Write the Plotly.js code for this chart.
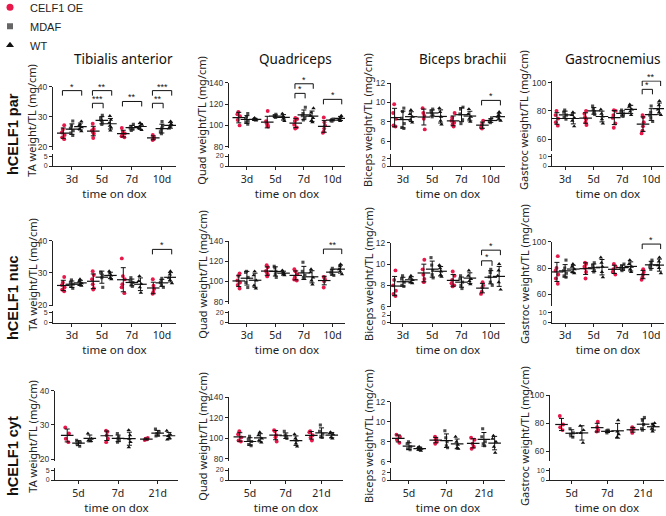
<!DOCTYPE html>
<html><head><meta charset="utf-8">
<script src="https://cdn.plot.ly/plotly-3.0.1.min.js"></script>
<style>html,body{margin:0;padding:0;background:#fff}#chart{width:666px;height:516px}</style>
</head><body><div id="chart"></div>
<script>
// ---------------- data ----------------
const groups = ['CELF1 OE', 'MDAF', 'WT'];
const muscles = ['Tibialis anterior', 'Quadriceps', 'Biceps brachii', 'Gastrocnemius'];
const yTitles = ['TA weight/TL (mg/cm)', 'Quad weight/TL (mg/cm)', 'Biceps weight/TL (mg/cm)', 'Gastroc weight/TL (mg/cm)'];
const rowLabels = ['hCELF1 par', 'hCELF1 nuc', 'hCELF1 cyt'];
const timesParNuc = ['3d', '5d', '7d', '10d'];
const timesCyt = ['5d', '7d', '21d'];
const upperTicks = [[20, 30, 40], [80, 100, 120, 140], [6, 8, 10, 12], [60, 80, 100]];
const lowerTicks = [[0, 5], [0, 20], [0, 2], [0, 10]];

// hCELF1 par
const par_TA_OE   = [[27.2,25.8,24.8,24.0,23.2,22.6],[27.7,26.0,25.5,25.0,24.5,23.0],[26.3,25.0,24.5,24.0,23.6,23.2],[24.0,23.3,23.0,22.6,22.3]];
const par_TA_MDAF = [[28.6,27.0,26.2,25.4,24.6,23.8],[30.5,29.5,28.8,28.0,27.5],[27.5,26.8,26.3,26.0,25.5],[28.4,27.0,26.3,25.5,25.0,24.4]];
const par_TA_WT   = [[28.5,27.5,27.0,26.5,26.0,25.2],[30.3,29.0,28.0,27.0,26.5,25.5],[28.0,27.4,26.8,26.2,25.6],[28.5,27.6,27.0,26.6,26.1]];
const par_Quad_OE   = [[112.5,110.5,108.5,105,100],[113.5,104,102,100.5,99.5,99],[107,106,104,100.5,98,97],[107.5,103,100,97,94,93]];
const par_Quad_MDAF = [[111,108,106,104,103,101],[110.5,109,108.5,108,107.5],[117,111,109,107.5,105],[106,105.5,105,104.5,104]];
const par_Quad_WT   = [[107,106,105.5,105,104.5],[111,108.5,107.5,106.5,104],[116,112,109,107,104.5,103],[109,107.5,106.5,105.5,104]];
const par_Bic_OE   = [[9.8,8.9,8.3,7.6,7.5],[9.4,8.9,8.6,8.3,7.2],[8.9,8.4,8.1,7.9,7.7,7.5],[8.1,7.8,7.6,7.4,7.3]];
const par_Bic_MDAF = [[9.4,9.05,8.35,7.8,7.4,7.3],[9.3,9.1,8.9,8.7,8.5],[9.5,9.3,8.8,8.2,7.8],[8.4,8.2,8.1,8.0,7.9]];
const par_Bic_WT   = [[9.2,8.8,8.5,8.2,7.9],[9.4,9.0,8.5,8.1,7.7],[9.3,8.8,8.5,8.3,8.0],[9.0,8.7,8.5,8.3,8.1]];
const par_Gas_OE   = [[80,77,74.5,72,69.5],[80,78,75.5,74,72,70],[80.5,80,77,75,71,68],[77,75.5,72,69,66,64]];
const par_Gas_MDAF = [[80.5,79,77,75.5,74],[83.5,81,79.5,78.5,77.5],[80.5,79.5,78,77,76],[83.5,79,77,75,72.5]];
const par_Gas_WT   = [[79,77,75,73,69],[81,78,76,74,71],[84.5,83,81,79.5,77],[87,84,81,79,77]];

// hCELF1 nuc
const nuc_TA_OE   = [[28.7,27.0,26.2,25.5,24.8,24.3],[30.5,29.3,28.0,26.5,25.2,24.8],[34.5,29.0,28.0,26.5,25.5,23.7],[28.0,26.0,25.0,24.0,23.5]];
const nuc_TA_MDAF = [[27.8,27.0,26.5,25.8,25.2],[30.2,29.8,29.3,28.5,25.5],[28.5,27.5,27.0,26.3,25.8],[28.3,27.5,27.0,26.2,25.5]];
const nuc_TA_WT   = [[28.0,27.3,26.8,26.3,26.0],[30.5,29.8,29.2,28.5,28.0],[29.0,27.5,26.5,25.5,23.8],[30.5,29.5,28.5,27.8,26.8]];
const nuc_Quad_OE   = [[108,105.5,101,99,96.5,93],[116,114,110.5,109,107,105],[112,110,107,104,102,101],[104.5,104,102,100,94]];
const nuc_Quad_MDAF = [[110,109,104,99,94],[115,113.5,110,107,104],[119,110,106,104,103],[113,111,109,107,106]];
const nuc_Quad_WT   = [[110,106,101,96,93],[111,109,108,107,106],[112,109,104,101,97],[117,115,112,110,107]];
const nuc_Bic_OE   = [[9.4,8.5,8.0,7.5,7.2,7.0],[10.4,9.5,9.0,8.6,8.3],[9.3,8.9,8.5,8.2,8.0,7.9],[8.3,8.0,7.8,7.4,7.2]];
const nuc_Bic_MDAF = [[8.9,8.6,8.3,8.0,7.9],[10.6,9.9,9.4,9.0,8.7],[8.9,8.6,8.3,8.0,7.7],[9.5,9.2,8.8,8.3,8.0]];
const nuc_Bic_WT   = [[8.9,8.7,8.5,8.3,8.2],[9.9,9.6,9.3,9.0,8.8],[9.4,8.9,8.6,8.4,8.1],[10.0,9.4,8.9,8.3,7.6]];
const nuc_Gas_OE   = [[89,80,78,75,72,68],[84,83,81,80,77,72],[83,81,79,77,75],[79,77,75,73,71]];
const nuc_Gas_MDAF = [[86,80,78,76,74,73],[84,82,80,78,77],[83,81.5,80,79,78],[86,84,82,81,79]];
const nuc_Gas_WT   = [[83,81,79,77,76],[88,84,81,77,73],[86,83,81,79,77],[88,85,82,80,76]];

// hCELF1 cyt
const cyt_TA_OE   = [[29.3,27.5,26.0,25.0],[28.3,28.0,27.0,26.0,25.0],[26.2,26.0,25.8,25.6]];
const cyt_TA_MDAF = [[25.5,25.0,24.5,23.8],[27.5,26.5,26.0,25.5,25.0],[28.8,28.0,27.5,27.0,26.8]];
const cyt_TA_WT   = [[27.5,26.0,25.5,25.3],[28.5,27.0,26.0,25.0,23.5],[28.3,27.2,26.8,26.2,25.8]];
const cyt_Quad_OE   = [[107,104,101,98,97],[108,107,103,101,97],[107,106,103,101,98]];
const cyt_Quad_MDAF = [[102,99,97,94,93],[107,103,102,101,100],[113,107,104,102,101]];
const cyt_Quad_WT   = [[106,103,100,98,96],[104,100,98,95,92],[106,105,104,101,100]];
const cyt_Bic_OE   = [[8.7,8.5,8.2,7.9],[8.5,8.3,8.2,8.0,7.8],[8.4,8.2,7.8,7.5,7.3]];
const cyt_Bic_MDAF = [[8.0,7.8,7.5,7.3,7.2],[9.1,8.4,8.0,7.6,7.4],[9.3,8.5,8.0,7.8,7.6]];
const cyt_Bic_WT   = [[7.5,7.4,7.3,7.2,7.1],[8.5,8.0,7.7,7.4,7.3],[8.6,8.3,8.0,7.5,6.9]];
const cyt_Gas_OE   = [[85,79,77,75],[81,77,75,74],[77,76,75,73]];
const cyt_Gas_MDAF = [[76,73,72,70],[75,74.5,74,73],[84,82,79,76,75]];
const cyt_Gas_WT   = [[78,75,73,66],[82,74,72,70],[80,79,78,76,74]];

// significance brackets (panel = row*4+col, time index, from/to group index)
const sigPanel = [0, 0, 0, 0, 0, 0, 1, 1, 1, 2, 3, 3, 4, 5, 6, 6, 7];
const sigTime  = [0, 1, 1, 2, 3, 3, 2, 2, 3, 3, 3, 3, 3, 3, 3, 3, 3];
const sigFrom  = [0, 0, 0, 0, 0, 0, 0, 0, 0, 0, 0, 0, 0, 0, 0, 0, 0];
const sigTo    = [2, 2, 1, 2, 2, 1, 2, 1, 2, 2, 2, 1, 2, 2, 2, 1, 2];
const sigY     = [38.7, 38.7, 34.5, 35.1, 38.7, 34.5, 139, 130, 124.4, 10.2, 101.2, 95.3, 37.3, 132, 11.3, 10.3, 98.2];
const sigText  = ['*', '**', '***', '**', '***', '**', '*', '*', '*', '*', '**', '*', '*', '**', '*', '*', '*'];

// ---------------- layout geometry (pixels) ----------------
const W = 666, H = 516;
const px = v => v / W;
const py = v => 1 - v / H;
const xDom = [
  [[53,176],[229,345],[391,505],[552,664]],
  [[53,176],[229,345],[391,505],[552,664]],
  [[55,178],[229,343],[391,505],[550,664]]
];
const xRng = [
  [[-2.2,12.15],[-2.2,12.05],[-1.43,12.2],[-1.6,12.06]],
  [[-2.2,12.15],[-2.2,12.05],[-1.43,12.2],[-1.6,12.06]],
  [[-2.08,8.8],[-2.06,9.1],[-1.68,8.97],[-2.13,9.05]]
];
const upDom = [
  [[150,86.7],[148,82.7],[150,83],[151,80.6]],
  [[306,240.7],[304,241],[307,242.7],[306,241.7]],
  [[461,390.7],[461,397.3],[462.7,401.7],[461,395]]
];
const upRng = [
  [[19,40],[78.8,140],[5.07,12],[51.5,101.5]],
  [[19.7,40],[77.7,140],[5.97,12],[51.1,100]],
  [[19.5,40],[78,140],[5.9,12],[53,100]]
];
const loDom = [[166,154],[322.5,310.5],[480,468]];
const loTop = [6.2, 24, 3.2, 12.4];
const yTitleY = [120, 274, 436];
const yTitleX = [31.7, 201.7, 368, 524];
const rowLabelY = [134, 298, 456];
const titleX = [123, 295, 463, 613];

const groupStep = 3.5;
const offsets = [-1, 0, 1];
const colors = ['#e8184a', '#4d4d4d', '#111111'];
const symbols = ['circle', 'square', 'triangle-up'];
const sizes = [3.9, 3.1, 3.9];

const dataSets = [
  [[par_TA_OE, par_TA_MDAF, par_TA_WT], [par_Quad_OE, par_Quad_MDAF, par_Quad_WT], [par_Bic_OE, par_Bic_MDAF, par_Bic_WT], [par_Gas_OE, par_Gas_MDAF, par_Gas_WT]],
  [[nuc_TA_OE, nuc_TA_MDAF, nuc_TA_WT], [nuc_Quad_OE, nuc_Quad_MDAF, nuc_Quad_WT], [nuc_Bic_OE, nuc_Bic_MDAF, nuc_Bic_WT], [nuc_Gas_OE, nuc_Gas_MDAF, nuc_Gas_WT]],
  [[cyt_TA_OE, cyt_TA_MDAF, cyt_TA_WT], [cyt_Quad_OE, cyt_Quad_MDAF, cyt_Quad_WT], [cyt_Bic_OE, cyt_Bic_MDAF, cyt_Bic_WT], [cyt_Gas_OE, cyt_Gas_MDAF, cyt_Gas_WT]]
];
const timeLabels = [timesParNuc, timesParNuc, timesCyt];

const mean = a => a.reduce((s, v) => s + v, 0) / a.length;
const sd = a => { const m = mean(a); return Math.sqrt(a.reduce((s, v) => s + (v - m) * (v - m), 0) / (a.length - 1)); };

const axisColor = '#222';
const sansText = 'Noto Sans, Open Sans, sans-serif';
const armText = 'Liberation Sans, Arial, sans-serif';

const traces = [];
const layout = {
  width: W, height: H,
  margin: {l: 0, r: 0, t: 0, b: 0, autoexpand: false},
  paper_bgcolor: '#fff', plot_bgcolor: 'rgba(0,0,0,0)',
  showlegend: true,
  legend: {x: -0.015, y: 1.014, xanchor: 'left', yanchor: 'top', bgcolor: 'rgba(0,0,0,0)',
           font: {size: 11, family: armText, color: '#222'}, tracegroupgap: 0},
  annotations: [], shapes: []
};

const panelAxes = [];
for (let r = 0; r < 3; r++) {
  for (let c = 0; c < 4; c++) {
    const k = r * 4 + c;
    const xid = k === 0 ? 'x' : 'x' + (k + 1);
    const yu = 2 * k + 1, yl = 2 * k + 2;
    const yuId = yu === 1 ? 'y' : 'y' + yu;
    const ylId = 'y' + yl;
    panelAxes.push({xid, yuId, r, c});
    const tpos = timeLabels[r].map((_, t) => t * groupStep);

    layout['xaxis' + (k === 0 ? '' : k + 1)] = {
      domain: [px(xDom[r][c][0]), px(xDom[r][c][1])], range: xRng[r][c], anchor: ylId,
      tickmode: 'array', tickvals: tpos, ticktext: timeLabels[r],
      showline: true, linecolor: axisColor, linewidth: 1, ticks: 'outside', ticklen: 3, tickcolor: axisColor,
      tickfont: {size: 10.5, family: sansText, color: '#222'},
      showgrid: false, zeroline: false, fixedrange: true,
      title: {text: 'time on dox', font: {size: 11.5, family: sansText, color: '#222'}, standoff: 2}
    };
    layout['yaxis' + (yu === 1 ? '' : yu)] = {
      domain: [py(upDom[r][c][0]), py(upDom[r][c][1])], range: upRng[r][c], anchor: xid,
      tickmode: 'array', tickvals: upperTicks[c],
      showline: true, linecolor: axisColor, linewidth: 1, ticks: 'outside', ticklen: 3, tickcolor: axisColor,
      tickfont: {size: 8.5, family: armText, color: '#333'},
      showgrid: false, zeroline: false, fixedrange: true
    };
    layout['yaxis' + yl] = {
      domain: [py(loDom[r][0]), py(loDom[r][1])], range: [0, loTop[c]], anchor: xid,
      tickmode: 'array', tickvals: lowerTicks[c],
      showline: true, linecolor: axisColor, linewidth: 1, ticks: 'outside', ticklen: 3, tickcolor: axisColor,
      tickfont: {size: 7, family: armText, color: '#333'},
      showgrid: false, zeroline: false, fixedrange: true
    };
    traces.push({type: 'scatter', x: [], y: [], xaxis: xid, yaxis: ylId, showlegend: false, hoverinfo: 'skip'});

    for (let g = 0; g < 3; g++) {
      const sets = dataSets[r][c][g];
      const xs = [], ys = [], mx = [], my = [], me = [];
      sets.forEach((vals, t) => {
        vals.forEach(v => { xs.push(t * groupStep + offsets[g]); ys.push(v); });
        mx.push(t * groupStep + offsets[g]); my.push(mean(vals)); me.push(sd(vals));
      });
      traces.push({
        type: 'box', x: xs, y: ys, xaxis: xid, yaxis: yuId, name: groups[g], showlegend: false,
        boxpoints: 'all', jitter: 0.5, pointpos: 0, width: 0.8, whiskerwidth: 0,
        line: {width: 0, color: 'rgba(0,0,0,0)'}, fillcolor: 'rgba(0,0,0,0)',
        marker: {symbol: symbols[g], size: sizes[g], color: colors[g], line: {width: 0}},
        hoverinfo: 'skip'
      });
      traces.push({
        type: 'scatter', mode: 'markers', x: mx, y: my, xaxis: xid, yaxis: yuId, showlegend: false,
        marker: {symbol: 'line-ew', size: 9, color: '#111', line: {width: 1.2, color: '#111'}},
        error_y: {type: 'data', array: me, visible: true, color: '#111', thickness: 1, width: 2.5},
        hoverinfo: 'skip'
      });
    }

    layout.annotations.push({
      text: yTitles[c], xref: 'paper', yref: 'paper', x: px(yTitleX[c]), y: py(yTitleY[r]),
      xanchor: 'center', yanchor: 'middle', textangle: -90, showarrow: false,
      font: {size: 11, family: sansText, color: '#222'}
    });
  }
}

// significance brackets
for (let i = 0; i < sigPanel.length; i++) {
  const k = sigPanel[i];
  const {xid, yuId, r, c} = panelAxes[k];
  const ppu = (upDom[r][c][0] - upDom[r][c][1]) / (upRng[r][c][1] - upRng[r][c][0]);
  const leg = 5 / ppu;
  const xa = sigTime[i] * groupStep + offsets[sigFrom[i]] - 0.1;
  const xb = sigTime[i] * groupStep + offsets[sigTo[i]] + 0.15;
  traces.push({
    type: 'scatter', mode: 'lines', x: [xa, xa, xb, xb], y: [sigY[i] - leg, sigY[i], sigY[i], sigY[i] - leg],
    xaxis: xid, yaxis: yuId, showlegend: false, hoverinfo: 'skip', line: {color: '#111', width: 1}
  });
  layout.annotations.push({
    text: sigText[i], xref: xid, yref: yuId, x: (xa + xb) / 2, y: sigY[i],
    xanchor: 'center', yanchor: 'bottom', yshift: -3, showarrow: false,
    font: {size: 9, family: armText, color: '#111'}
  });
}

// legend entries
for (let g = 0; g < 3; g++) {
  traces.push({
    type: 'scatter', mode: 'markers', x: [null], y: [null], xaxis: 'x', yaxis: 'y', name: groups[g],
    marker: {symbol: symbols[g], size: g === 1 ? 6 : 7, color: g === 1 ? '#666' : colors[g]}, hoverinfo: 'skip'
  });
}

for (let c = 0; c < 4; c++) {
  layout.annotations.push({
    text: muscles[c], xref: 'paper', yref: 'paper', x: px(titleX[c]), y: py(59),
    xanchor: 'center', yanchor: 'middle', showarrow: false,
    font: {size: 13.5, family: sansText, color: '#111'}
  });
}
for (let r = 0; r < 3; r++) {
  layout.annotations.push({
    text: rowLabels[r], xref: 'paper', yref: 'paper', x: px(13), y: py(rowLabelY[r]),
    xanchor: 'center', yanchor: 'middle', textangle: -90, showarrow: false,
    font: {size: 14.5, family: armText, color: '#111', weight: 'bold'}
  });
}

Plotly.newPlot('chart', traces, layout, {staticPlot: true, displayModeBar: false});
</script>
</body></html>
